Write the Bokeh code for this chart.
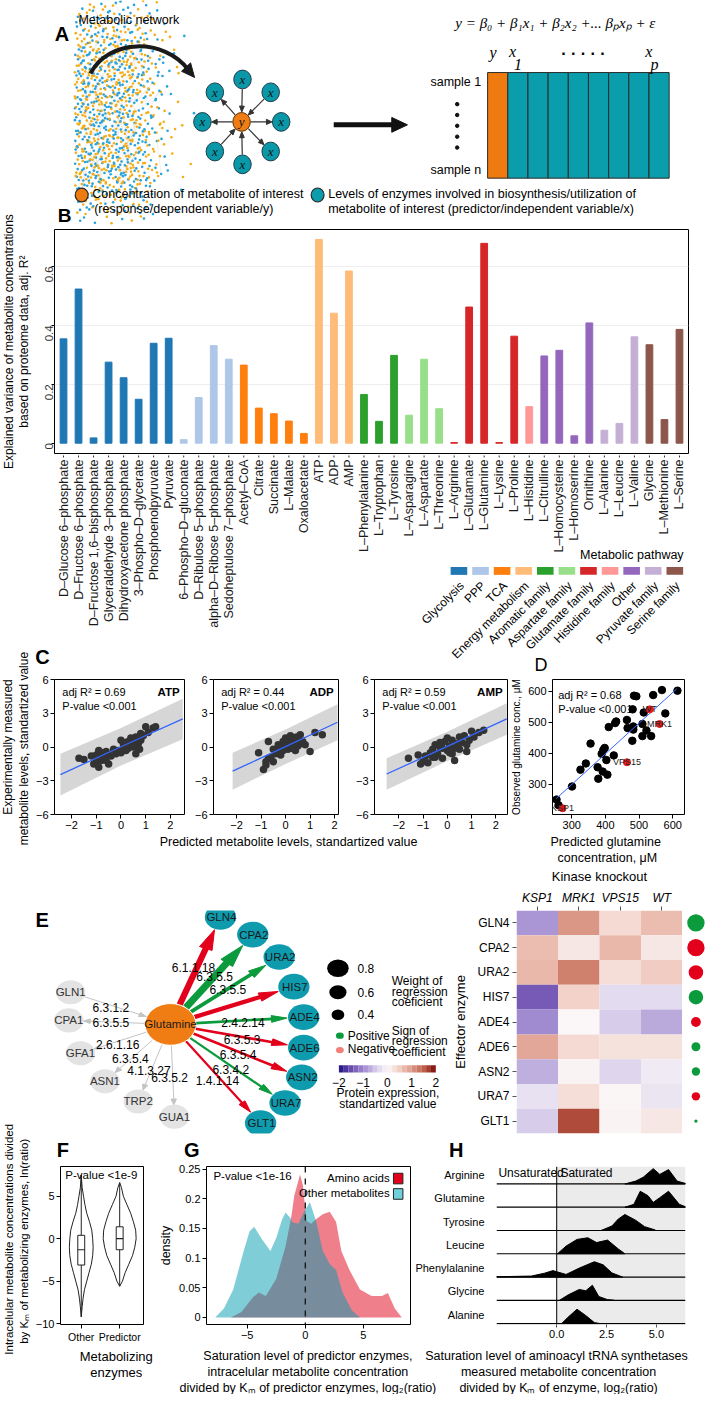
import numpy as np
from math import pi
from bokeh.plotting import figure
from bokeh.layouts import row, column
from bokeh.models import (Range1d, Label, FixedTicker, ColumnDataSource, Span, BoxAnnotation,
                          LinearColorMapper, BasicTickFormatter)
from bokeh.core.properties import value
from bokeh.embed import file_html
from bokeh.resources import INLINE

# ======================= DATA =======================
# Panel B
metabolites = ["D–Glucose 6–phosphate", "D–Fructose 6–phosphate", "D–Fructose 1,6–bisphosphate",
               "Glyceraldehyde 3–phosphate", "Dihydroxyacetone phosphate", "3–Phospho–D–glycerate",
               "Phosphoenolpyruvate", "Pyruvate", "6–Phospho–D–gluconate", "D–Ribulose 5–phosphate",
               "alpha–D–Ribose 5–phosphate", "Sedoheptulose 7–phosphate", "Acetyl–CoA", "Citrate",
               "Succinate", "L–Malate", "Oxaloacetate", "ATP", "ADP", "AMP", "L–Phenylalanine",
               "L–Tryptophan", "L–Tyrosine", "L–Asparagine", "L–Aspartate", "L–Threonine", "L–Arginine",
               "L–Glutamate", "L–Glutamine", "L–Lysine", "L–Proline", "L–Histidine", "L–Citrulline",
               "L–Homocysteine", "L–Homoserine", "Ornithine", "L–Alanine", "L–Leucine", "L–Valine",
               "Glycine", "L–Methionine", "L–Serine"]
adj_r2 = [0.354, 0.523, 0.018, 0.275, 0.222, 0.149, 0.339, 0.356, 0.012, 0.155, 0.331, 0.285,
          0.265, 0.119, 0.100, 0.075, 0.033, 0.691, 0.441, 0.584, 0.165, 0.074, 0.298, 0.095,
          0.285, 0.117, 0.002, 0.462, 0.678, 0.002, 0.363, 0.124, 0.296, 0.315, 0.025, 0.408,
          0.044, 0.067, 0.361, 0.334, 0.080, 0.386]
met_pathway = (["Glycolysis"] * 8 + ["PPP"] * 4 + ["TCA"] * 5 + ["Energy metabolism"] * 3 +
               ["Aromatic family"] * 3 + ["Aspartate family"] * 3 + ["Glutamate family"] * 5 +
               ["Histidine family"] + ["Other"] * 4 + ["Pyruvate family"] * 3 + ["Serine family"] * 3)
pathways = ["Glycolysis", "PPP", "TCA", "Energy metabolism", "Aromatic family", "Aspartate family",
            "Glutamate family", "Histidine family", "Other", "Pyruvate family", "Serine family"]
pathway_colors = ["#1f77b4", "#aec7e8", "#ff7f0e", "#ffbb78", "#2ca02c", "#98df8a", "#d62728",
                  "#ff9896", "#9467bd", "#c5b0d5", "#8c564b"]

# Panel C
atp_pred = [-1.7, -1.5, -1.2, -1.1, -1.0, -1.0, -0.9, -0.8, -0.8, -0.7, -0.6, -0.5, -0.5, -0.4, -0.3,
            -0.2, -0.1, 0.0, 0.0, 0.1, 0.2, 0.2, 0.3, 0.3, 0.4, 0.4, 0.5, 0.5, 0.6, 0.6, 0.7, 0.8,
            0.8, 0.9, 1.0, 1.1, 1.3, 1.4, -0.9, -0.6, 0.1, 0.35, 0.75]
atp_obs = [-1.0, -1.1, -0.8, -1.5, -1.3, -0.7, -1.8, -1.2, -0.5, -1.0, -0.4, -1.5, -0.7, -0.8, -0.2,
           -0.6, -0.3, 0.6, -0.5, 0.2, 0.4, -0.3, 0.5, -0.1, 0.8, 0.1, 0.5, 0.0, 0.9, -0.6, 0.3, 0.6,
           1.2, 1.0, 1.8, 1.3, 1.7, 1.8, -0.3, -1.2, -0.1, 0.2, -0.2]
adp_pred = [-1.1, -0.9, -0.8, -0.7, -0.7, -0.6, -0.5, -0.5, -0.4, -0.3, -0.3, -0.2, -0.1, -0.1, 0.0,
            0.0, 0.1, 0.1, 0.2, 0.2, 0.3, 0.3, 0.4, 0.4, 0.5, 0.5, 0.6, 0.7, 0.8, 1.0, 1.2, 1.5,
            -0.8, -0.2, 0.05, 0.25, 0.45, 0.6]
adp_obs = [-0.5, -2.0, -1.6, -1.0, 0.5, -0.9, -0.2, -1.3, -0.6, 0.2, -0.4, 0.0, -0.3, 0.5, 0.8, 0.1,
           0.2, -0.2, 1.0, 0.4, 0.6, 0.0, 0.3, -0.3, 0.7, 0.1, 1.1, 0.5, 0.2, -0.4, 1.3, 1.1, -1.3,
           -0.7, 0.4, -0.1, 0.9, 0.3]
amp_pred = [-1.6, -1.2, -1.1, -1.0, -0.9, -0.8, -0.7, -0.6, -0.5, -0.5, -0.4, -0.3, -0.2, -0.2, -0.1,
            0.0, 0.0, 0.1, 0.2, 0.2, 0.3, 0.4, 0.5, 0.5, 0.6, 0.7, 0.8, 0.8, 0.9, 1.0, 1.1, 1.3, 1.5,
            0.3, -0.6, -0.3, 0.1, 0.45]
amp_obs = [-1.0, -0.7, -1.5, -1.3, -0.8, -1.4, -0.5, -0.2, -0.9, 0.2, -0.6, 0.4, -0.1, -1.0, 0.5,
           -0.3, 0.8, 0.1, 0.6, -0.6, -1.2, 0.3, 0.9, -0.2, 0.4, 1.0, 0.2, -0.4, 0.6, 1.4, 0.9, 1.3,
           1.5, -0.1, -0.9, 0.0, -0.5, 0.2]
# regression line and prediction band (x, fit, lower, upper)
atp_band = dict(x=[-2.45, 0.0, 2.5], fit=[-2.45, 0.02, 2.5], lo=[-4.3, -1.65, 0.7], hi=[-0.6, 1.7, 4.3])
adp_band = dict(x=[-2.16, 0.0, 2.12], fit=[-2.15, 0.03, 2.2], lo=[-3.8, -1.5, 0.6], hi=[-0.5, 1.55, 3.8])
amp_band = dict(x=[-2.5, 0.0, 2.45], fit=[-2.4, 0.05, 2.5], lo=[-3.8, -1.25, 1.1], hi=[-1.0, 1.35, 3.9])
c_stats = [("ATP", "0.69"), ("ADP", "0.44"), ("AMP", "0.59")]

# Panel D
gln_pred = [255, 261, 301, 326, 342, 356, 377, 379, 392, 389, 394, 398, 403, 406, 425, 410, 429, 432,
            464, 466, 480, 483, 483, 481, 485, 492, 510, 510, 514, 522, 536, 542, 568, 578, 614]
gln_obs = [251, 233, 293, 347, 367, 431, 355, 318, 341, 398, 411, 417, 378, 331, 393, 484, 497, 502,
           507, 481, 440, 476, 486, 541, 585, 583, 494, 455, 531, 473, 455, 587, 603, 528, 601]
ko_names = ["KSP1", "VPS15", "WT", "MRK1"]
ko_pred = [273, 464, 532, 561]
ko_obs = [223, 371, 541, 494]
gln_fit_x = [254, 612]
gln_fit_y = [254, 607]

# Panel E
effectors = ["GLN4", "CPA2", "URA2", "HIS7", "ADE4", "ADE6", "ASN2", "URA7", "GLT1"]
effector_ec = ["6.1.1.18", "6.3.5.5", "6.3.5.5", "", "2.4.2.14", "6.3.5.3", "6.3.5.4", "6.3.4.2", "1.4.1.14"]
edge_sign = [-1, 1, 1, -1, 1, -1, -1, 1, -1]
edge_weight = [0.80, 0.88, 0.55, 0.60, 0.45, 0.45, 0.45, 0.40, 0.40]
other_enzymes = ["GLN1", "CPA1", "GFA1", "ASN1", "TRP2", "GUA1"]
other_ec = ["6.3.1.2", "6.3.5.5", "2.6.1.16", "6.3.5.4", "4.1.3.27", "6.3.5.2"]
other_into = [True, False, False, False, False, False]
knockouts = ["KSP1", "MRK1", "VPS15", "WT"]
expr_KSP1 = [-0.9, 0.65, 0.7, -1.4, -1.0, 0.85, -0.7, -0.25, -0.45]
expr_MRK1 = [1.0, 0.2, 1.2, 0.45, 0.0, 0.35, 0.05, 0.3, 1.6]
expr_VPS15 = [0.35, 0.7, 0.3, -0.3, -0.45, 0.25, -0.35, 0.02, 0.05]
expr_WT = [0.65, 0.2, 0.5, -0.3, -0.75, 0.25, -0.15, -0.2, 0.2]
dot_sign = [1, -1, -1, 1, -1, 1, 1, -1, 1]
dot_weight = [0.72, 0.72, 0.62, 0.62, 0.45, 0.42, 0.40, 0.40, 0.22]

# Panel F (violin profiles: value, density half-width)
other_v_val = [7.5, 6, 5, 4, 3, 2, 1, 0, -1, -2, -3, -4, -5, -6, -7, -8, -9.2]
other_v_den = [0, 1, 2.5, 4, 6, 9, 11.5, 12.5, 13, 12.5, 11, 8.5, 6, 3.5, 2, 1, 0]
pred_v_val = [6.6, 6, 5, 4, 3, 2, 1, 0, -1, -2, -3, -4, -5, -5.6]
pred_v_den = [0, 2, 4, 8, 12, 15, 17.5, 18, 16.5, 14, 10, 6, 3, 0]
box_other = dict(lo=-9.2, q1=-3.1, med=-1.3, q3=0.4, hi=7.5)
box_pred = dict(lo=-5.6, q1=-1.3, med=0.0, q3=1.4, hi=6.6)

# Panel G
aa_x = [-6.4, -5.5, -4.5, -4.0, -3.4, -2.5, -1.7, -1.2, -0.95, -0.45, -0.2, 0.1, 0.5, 0.95, 1.5,
        2.1, 2.65, 3.1, 3.8, 4.7, 5.7, 6.6, 7.1, 7.7, 8.3]
aa_d = [0.0, 0.009, 0.034, 0.042, 0.036, 0.065, 0.12, 0.17, 0.205, 0.241, 0.222, 0.163, 0.158, 0.166,
        0.174, 0.178, 0.161, 0.112, 0.080, 0.047, 0.036, 0.036, 0.041, 0.015, 0.0]
om_x = [-7.75, -7.0, -6.2, -5.3, -4.8, -4.4, -3.8, -3.0, -2.5, -2.0, -1.7, -1.3, -1.1, -0.6, 0.0,
        0.4, 0.95, 1.5, 2.1, 2.65, 3.2, 4.0, 4.7]
om_d = [0.0, 0.015, 0.047, 0.112, 0.145, 0.153, 0.134, 0.112, 0.134, 0.165, 0.177, 0.168, 0.160,
        0.158, 0.182, 0.194, 0.161, 0.112, 0.090, 0.080, 0.042, 0.012, 0.0]

# Panel H (ridgelines)
ridge_names = ["Alanine", "Glycine", "Phenylalanine", "Leucine", "Tyrosine", "Glutamine", "Arginine"]
ridge_x = [
    [0.25, 0.57, 1.02, 1.46, 1.89, 2.17],
    [0.14, 0.58, 1.13, 1.46, 1.79, 2.11, 2.55, 2.88],
    [-3.02, -1.27, -0.61, -0.19, 0.47, 1.13, 1.89, 2.33, 2.77, 3.3],
    [0.04, 0.47, 1.02, 1.56, 2.0, 2.55, 3.09, 3.42],
    [2.22, 2.77, 3.09, 3.42, 3.96, 4.41, 4.95],
    [3.42, 3.87, 4.19, 4.58, 4.84, 5.17, 5.61, 6.15, 6.46],
    [3.42, 3.96, 4.34, 4.84, 5.17, 5.61, 6.04, 6.46],
]
ridge_d = [
    [0, 6.7, 15, 8.3, 1, 0],
    [0, 5.7, 11.3, 10, 15.7, 4, 0.7, 0],
    [0.3, 1, 4, 6.7, 2.7, 9.3, 16, 12.7, 4.3, 0],
    [0, 8, 15, 16.7, 11.7, 14.3, 5, 0],
    [0, 4.7, 12, 16.7, 10.7, 4, 0.5],
    [0, 3, 16.7, 12, 5, 10, 16.7, 3, 0.5],
    [0, 3, 7, 16, 10, 15, 3, 0.5],
]

# ======================= LAYOUT HELPERS =======================
SANS = "Liberation Sans"
SERIF = "Liberation Serif"
SX = 705.0 / 721.0
SY = 1394.0 / 1410.0


def X(v):
    return int(round(v * SX))


def Y(v):
    return int(round(v * SY))


class Panel:
    """A figure whose canvas / frame are given in reference-pixel units."""

    def __init__(self, canvas, frame=None, xr=None, yr=None, **kw):
        cx0, cx1, cy0, cy1 = canvas
        if frame is None:
            frame = canvas
        fx0, fx1, fy0, fy1 = frame
        if xr is None:
            xr = (fx0, fx1)
        if yr is None:
            yr = (fy1, fy0)
        self.frame, self.xr, self.yr = frame, xr, yr
        p = figure(width=X(cx1) - X(cx0), height=Y(cy1) - Y(cy0),
                   x_range=Range1d(*xr), y_range=Range1d(*yr),
                   output_backend="svg", toolbar_location=None, **kw)
        p.min_border_left = X(fx0) - X(cx0)
        p.min_border_right = X(cx1) - X(fx1)
        p.min_border_top = Y(fy0) - Y(cy0)
        p.min_border_bottom = Y(cy1) - Y(fy1)
        p.border_fill_color = "white"
        p.background_fill_color = "white"
        p.outline_line_color = None
        self.p = p

    def dx(self, rx):
        fx0, fx1, _, _ = self.frame
        return self.xr[0] + (rx - fx0) / (fx1 - fx0) * (self.xr[1] - self.xr[0])

    def dy(self, ry):
        _, _, fy0, fy1 = self.frame
        return self.yr[0] + (fy1 - ry) / (fy1 - fy0) * (self.yr[1] - self.yr[0])

    def label(self, rx, ry, text, size=12, align="left", base="middle", angle=0.0, font=SANS,
              style="normal", color="#000000", **kw):
        self.p.add_layout(Label(x=self.dx(rx), y=self.dy(ry), text=text, text_font_size=f"{size}px",
                                text_align=align, text_baseline=base, angle=angle, text_font=font,
                                text_font_style=style, text_color=color, **kw))


def blank(canvas, **kw):
    return Panel(canvas, x_axis_type=None, y_axis_type=None, **kw)


def style_axes(p, size=11, color="#000000"):
    for ax in p.axis:
        ax.axis_line_color = None
        ax.major_tick_line_color = "#000000"
        ax.major_tick_out = 4
        ax.major_tick_in = 0
        ax.minor_tick_line_color = None
        ax.major_label_text_font_size = f"{size}px"
        ax.major_label_text_font = SANS
        ax.major_label_text_color = color
        ax.major_label_standoff = 2
        ax.axis_label_text_font = SANS
        ax.axis_label_text_font_style = "normal"
        ax.axis_label_text_color = "#000000"
    p.grid.visible = False


def head(tx, ty, ux, uy, L, hw):
    n = np.hypot(ux, uy)
    ux, uy = ux / n, uy / n
    bx, by = tx - ux * L, ty - uy * L
    px, py = -uy, ux
    return [tx, bx + px * hw, bx - px * hw], [ty, by + py * hw, by - py * hw]


def halton(i, b):
    f, r = 1.0, 0.0
    while i > 0:
        f /= b
        r += f * (i % b)
        i //= b
    return r


# ======================= LEFT STRIP (rotated y titles) =======================
LS = blank((0, 33, 0, 1410))
LS.label(9, 345, "Explained variance of metabolite concentrations", size=12, align="center", angle=pi / 2)
LS.label(24, 345, "based on proteome data, adj. R²", size=12, align="center", angle=pi / 2)
LS.label(8, 755, "Experimentally measured", size=12, align="center", angle=pi / 2)
LS.label(24, 755, "metabolite levels,  standartized value", size=12, align="center", angle=pi / 2)
LS.label(9, 1253, "Intracelular metabolite concentrations divided", size=11.5, align="center", angle=pi / 2)
LS.label(24, 1255, "by Kₘ of metabolizing enzymes, ln(ratio)", size=11.5, align="center", angle=pi / 2)

# ======================= PANEL A =======================
PA = blank((33, 721, 0, 230))
pa = PA.p
hx, hy, hc = [], [], []
for i in range(1, 4200):
    u, v, w, c = halton(i, 2), halton(i, 3), halton(i, 5), halton(i, 7)
    x = 55 + 150 * u
    y = 226 * v
    d = 1.0 if x < 105 else np.exp(-((x - 105) / 38.0) ** 2)
    if y < 60:
        d *= 0.2 + 0.8 * y / 60.0
    if y > 185:
        d *= max(0.0, 1 - (y - 185) / 45.0) * (1.0 if x < 140 else 0.2)
    if w < 0.55 * d:
        hx.append(x)
        hy.append(y)
        hc.append("#f4ad17" if c < 0.5 else "#28a3dc")
exs, eys = [], []
for k in range(0, len(hx) - 5, 2):
    if abs(hx[k] - hx[k + 5]) < 35 and abs(hy[k] - hy[k + 5]) < 35:
        exs.append([hx[k], hx[k + 5]])
        eys.append([hy[k], hy[k + 5]])
pa.multi_line(exs, eys, line_color="#9a9a9a", line_alpha=0.3, line_width=0.5)
pa.scatter(hx, hy, marker="circle", size=2.6, color=hc, line_color=None)

pa.bezier(x0=[72], y0=[74], x1=[178], y1=[70], cx0=[92], cy0=[38], cx1=[152], cy1=[38],
          line_width=4, line_color="#1a1a1a")
hxs, hys = head(185, 78, 14, 16, 14, 6.5)
pa.patch(hxs, hys, color="#1a1a1a")

cx_, cy_ = 236, 123
star_nodes = [(237, 80, True), (267.6, 93, True), (279, 123, False), (267.6, 153, False),
              (237, 166, True), (207, 153, True), (193.5, 123, False), (207, 93, False)]
for nx, ny, inward in star_nodes:
    ux, uy = nx - cx_, ny - cy_
    n = np.hypot(ux, uy)
    ux, uy = ux / n, uy / n
    sx0, sy0 = cx_ + ux * 10, cy_ + uy * 10
    ex0, ey0 = nx - ux * 10, ny - uy * 10
    if inward:
        pa.segment(ex0, ey0, sx0 + ux * 5, sy0 + uy * 5, line_color="#333333", line_width=1.2)
        a, b = head(sx0, sy0, -ux, -uy, 6, 2.6)
    else:
        pa.segment(sx0, sy0, ex0 - ux * 5, ey0 - uy * 5, line_color="#333333", line_width=1.2)
        a, b = head(ex0, ey0, ux, uy, 6, 2.6)
    pa.patch(a, b, color="#333333")
pa.ellipse([n_[0] for n_ in star_nodes], [n_[1] for n_ in star_nodes], width=19, height=19,
           fill_color="#0a98a8", line_color="#1d3f4a", line_width=1)
pa.ellipse([cx_], [cy_], width=19, height=19, fill_color="#ef7d13", line_color="#5a3000", line_width=1)
pa.text([n_[0] for n_ in star_nodes], [n_[1] for n_ in star_nodes], text=["x"] * 8,
        text_font=value(SERIF), text_font_style="italic", text_font_size="13px",
        text_align="center", text_baseline="middle", text_color="#111111")
pa.text([cx_], [cy_], text=["y"], text_font=value(SERIF), text_font_style="italic",
        text_font_size="13px", text_align="center", text_baseline="middle", text_color="#111111")

pa.segment(336, 126, 402, 126, line_width=5, line_color="#111111")
a, b = head(416, 126, 1, 0, 17, 7.5)
pa.patch(a, b, color="#111111")

mat_cols = ["y"] + ["x%d" % k for k in range(1, 9)]
mcw = (700 - 503) / len(mat_cols)
pa.quad(left=[503 + k * mcw for k in range(len(mat_cols))],
        right=[503 + (k + 1) * mcw for k in range(len(mat_cols))],
        top=[73] * len(mat_cols), bottom=[180] * len(mat_cols),
        fill_color=["#ef7b10"] + ["#0a9dab"] * (len(mat_cols) - 1), line_color="#2a2a2a", line_width=1)
PA.label(496, 83, "sample 1", size=12.5, align="right")
PA.label(496, 172, "sample n", size=12.5, align="right")
pa.scatter([470] * 5, [105, 116, 127, 138, 149], size=3.5, color="#111111")
PA.label(509, 53, "y", size=16, align="center", font=SERIF, style="italic")
PA.label(530, 52, "x", size=16, align="center", font=SERIF, style="italic")
PA.label(536, 65, "1", size=16, align="center", font=SERIF, style="italic")
PA.label(607, 54, "· · · · ·", size=16, align="center", font=SANS, style="bold")
PA.label(678, 52, "x", size=16, align="center", font=SERIF, style="italic")
PA.label(684, 65, "p", size=16, align="center", font=SERIF, style="italic")
PA.label(468, 23, "y = β₀ + β₁x₁ + β₂x₂ +... βₚxₚ + ε", size=15, align="left", font=SERIF,
         style="italic")
PA.label(59, 20, "Metabolic network", size=12.5)
PA.label(41, 34, "A", size=20, align="center", style="bold")
pa.ellipse([62.5, 318.5], [197, 197], width=14, height=14, fill_color=["#ef7b10", "#0a9dab"],
           line_color="#2b2b2b", line_width=1.2)
PA.label(74, 196, "Concentration of metabolite of interest", size=12.5)
PA.label(76, 211, "(response/dependent variable/y)", size=12.5)
PA.label(330, 196, "Levels of enzymes involved in biosynthesis/utilization of", size=12.5)
PA.label(330, 211, "metabolite of interest (predictor/independent variable/x)", size=12.5)
PA.label(44, 218, "B", size=19, align="center", style="bold")

# ======================= PANEL B =======================
B_XR = (-0.6, 41.6)
PB = Panel((33, 721, 230, 460), (55, 704, 232, 458), xr=B_XR, yr=(-0.035, 0.725), x_axis_location=None)
pb = PB.p
bar_colors = [pathway_colors[pathways.index(pw)] for pw in met_pathway]
idx = list(range(len(metabolites)))
pb.vbar(x=idx, top=adj_r2, width=0.45, color=bar_colors)
style_axes(pb, 11.5)
pb.outline_line_color = "#000000"
pb.yaxis.ticker = FixedTicker(ticks=[0, 0.2, 0.4, 0.6])
pb.yaxis.formatter = BasicTickFormatter(precision=1)
pb.yaxis.major_label_orientation = pi / 2
pb.yaxis.major_label_text_color = "#333333"
pb.yaxis.major_tick_out = 3
pb.yaxis.major_label_standoff = 2
pb.ygrid.visible = True
pb.ygrid.ticker = FixedTicker(ticks=[0.2, 0.4, 0.6])
pb.ygrid.grid_line_color = "#eeeeee"
pb.xgrid.visible = False

# category axis strip of B (identical frame/x scale as B) + pathway legend + letters
BLc = blank((33, 55, 460, 683))
BLc.label(43, 664, "C", size=20, align="center", style="bold")
BL = Panel((55, 721, 460, 683), (55, 704, 460, 683), xr=B_XR, yr=(683, 460),
           x_axis_type=None, y_axis_type=None)
bl = BL.p
bl.segment(x0=idx, y0=[459] * len(idx), x1=idx, y1=[462] * len(idx), line_color="#333333", line_width=1)
bl.text(x=idx, y=[464] * len(idx), text=metabolites, angle=pi / 2, text_align="right",
        text_baseline="middle", text_font=value(SANS), text_font_size="12.5px", text_color="#1a1a1a")
BL.label(699, 561, "Metabolic pathway", size=12.5, align="right")
sw_c = [469 + 22.1 * k for k in range(len(pathways))]
bl.quad(left=[BL.dx(c_ - 8.5) for c_ in sw_c], right=[BL.dx(c_ + 8.5) for c_ in sw_c],
        top=[573] * len(sw_c), bottom=[581] * len(sw_c), fill_color=pathway_colors, line_color=None)
for c_, pw in zip(sw_c, pathways):
    BL.label(c_ + 3, 590, pw, size=12, align="right", angle=pi / 4)
BL.label(553, 672, "D", size=18, align="center")

# ======================= PANEL C / D =======================
def scatter_panel(P, pred, obs, band, name, r2):
    p = P.p
    p.varea(x=band["x"], y1=band["lo"], y2=band["hi"], fill_color="#c8c8c8", fill_alpha=0.75)
    p.scatter(pred, obs, size=7.5, color="#333333", line_color=None)
    p.line(band["x"], band["fit"], line_color="#3366ff", line_width=1.3)
    style_axes(p, 11)
    p.outline_line_color = "#000000"
    p.xaxis.ticker = FixedTicker(ticks=[-2, -1, 0, 1, 2])
    p.yaxis.ticker = FixedTicker(ticks=[-6, -3, 0, 3, 6])
    fx0, fx1 = P.frame[0], P.frame[1]
    P.label(fx0 + 8, 700, "adj R² = " + r2, size=11)
    P.label(fx0 + 8, 714, "P-value <0.001", size=11)
    P.label(fx1 - 5, 700, name, size=11.5, align="right", style="bold")


C1 = Panel((33, 195, 683, 843), (55, 188, 687, 823), xr=(-2.69, 2.57), yr=(-6, 6))
C2 = Panel((195, 355, 683, 843), (216, 346, 687, 823), xr=(-2.94, 2.16), yr=(-6, 6))
C3 = Panel((355, 520, 683, 843), (382, 519, 687, 823), xr=(-3.0, 2.48), yr=(-6, 6))
scatter_panel(C1, atp_pred, atp_obs, atp_band, c_stats[0][0], c_stats[0][1])
scatter_panel(C2, adp_pred, adp_obs, adp_band, c_stats[1][0], c_stats[1][1])
scatter_panel(C3, amp_pred, amp_obs, amp_band, c_stats[2][0], c_stats[2][1])

PD = Panel((520, 721, 683, 843), (562, 700, 685, 823), xr=(243, 635), yr=(203, 637))
pd_ = PD.p
pd_.scatter(gln_pred, gln_obs, size=7.5, color="#000000")
pd_.line(gln_fit_x, gln_fit_y, line_color="#3366ff", line_width=1)
pd_.scatter(ko_pred, ko_obs, size=7, color="#e41a1c")
pd_.text(ko_pred, ko_obs, text=ko_names, text_font=value(SANS), text_font_size="9px",
         text_align="center", text_baseline="middle", text_color="#222222")
style_axes(pd_, 11)
pd_.outline_line_color = "#000000"
pd_.xaxis.ticker = FixedTicker(ticks=[300, 400, 500, 600])
pd_.yaxis.ticker = FixedTicker(ticks=[300, 400, 500, 600])
pd_.yaxis.axis_label = "Observed glutamine conc., μM"
pd_.yaxis.axis_label_text_font_size = "10px"
pd_.yaxis.axis_label_standoff = 3
PD.label(568, 701, "adj R² = 0.68", size=11)
PD.label(568, 715, "P-value <0.001", size=11)

SCD = blank((33, 721, 843, 875))
SCD.label(287, 851, "Predicted metabolite levels, standartized value", size=12.5, align="center")
SCD.label(633, 851, "Predicted  glutamine", size=12.5, align="center")
SCD.label(633, 867, "concentration, μM", size=12.5, align="center")

# ======================= PANEL E =======================
PE = blank((33, 460, 875, 1153))
pe = PE.p
GREEN, RED = "#0b9a3c", "#e2001a"
gx, gy = 174, 1017
eff_pos = [(225, 883), (258, 905), (285, 933), (300, 970), (310, 1008), (310, 1046), (308, 1083),
           (291, 1115), (266, 1140)]
oth_pos = [(72, 977), (70, 1012), (82, 1053), (107, 1088), (141, 1113), (178, 1132)]
oth_lab = [(113, 996), (113, 1014), (120, 1042), (133, 1060), (152, 1075), (173, 1083)]
eff_lab_off = [(-2, -4), (3, -4), (3, -2), (0, 0), (6, 2), (5, 4), (2, 5), (3, 7), (2, 8)]
R_G, R_N = 26, 16
for (nx, ny), into in zip(oth_pos, other_into):
    ux, uy = nx - gx, ny - gy
    n = np.hypot(ux, uy)
    ux, uy = ux / n, uy / n
    s = (gx + ux * (R_G + 1), gy + uy * (R_G + 1))
    e = (nx - ux * 15, ny - uy * 15)
    if into:
        pe.segment(e[0], e[1], s[0] - ux * 6, s[1] - uy * 6, line_color="#c4c4c4", line_width=1)
        a, b = head(s[0], s[1], -ux, -uy, 7, 2.8)
    else:
        pe.segment(s[0], s[1], e[0] - ux * 6, e[1] - uy * 6, line_color="#c4c4c4", line_width=1)
        a, b = head(e[0], e[1], ux, uy, 7, 2.8)
    pe.patch(a, b, color="#c4c4c4")
for (nx, ny), sg, wgt in zip(eff_pos, edge_sign, edge_weight):
    col = GREEN if sg > 0 else RED
    lw = 10 * wgt - 1.8
    ux, uy = nx - gx, ny - gy
    n = np.hypot(ux, uy)
    ux, uy = ux / n, uy / n
    s = (gx + ux * R_G, gy + uy * R_G)
    e = (nx - ux * (R_N + 1), ny - uy * (R_N + 1))
    L = 9 + 2.6 * lw
    pe.segment(s[0], s[1], e[0] - ux * (L - 2), e[1] - uy * (L - 2), line_color=col, line_width=lw)
    a, b = head(e[0], e[1], ux, uy, L, 2.2 + 0.75 * lw)
    pe.patch(a, b, color=col)
pe.ellipse([p_[0] for p_ in oth_pos], [p_[1] for p_ in oth_pos], width=30, height=30,
           fill_color="#e3e3e3", line_color=None)
pe.ellipse([p_[0] for p_ in eff_pos], [p_[1] for p_ in eff_pos], width=32, height=32,
           fill_color="#0e9bae", line_color=None)
pe.ellipse([gx], [gy], width=2 * R_G, height=2 * R_G, fill_color="#ef7d14", line_color="white")
pe.text([p_[0] for p_ in oth_pos], [p_[1] for p_ in oth_pos], text=other_enzymes,
        text_font=value(SANS), text_font_size="11.5px", text_align="center", text_baseline="middle",
        text_color="#333333")
pe.text([p_[0] + 1 for p_ in eff_pos], [p_[1] for p_ in eff_pos], text=effectors,
        text_font=value(SANS), text_font_size="11.5px", text_align="center", text_baseline="middle",
        text_color="#1a1a1a")
pe.text([gx], [gy], text=["Glutamine"], text_font=value(SANS), text_font_size="11.5px",
        text_align="center", text_baseline="middle", text_color="#1a1a1a")
for (lx, ly), t in zip(oth_lab, other_ec):
    PE.label(lx, ly, t, size=12, align="center")
for (nx, ny), (ox, oy), t in zip(eff_pos, eff_lab_off, effector_ec):
    if t:
        PE.label((gx + nx) / 2 + ox, (gy + ny) / 2 + oy, t, size=12, align="center")
PE.label(43, 887, "E", size=20, align="center", style="bold")
for wv, yy in zip([0.8, 0.6, 0.4], [947, 977, 1005]):
    d = 22.5 * wv + 4
    pe.ellipse([345], [yy], width=d, height=d, fill_color="#000000", line_color=None)
    PE.label(365, yy, "%.1f" % wv, size=12)
for t, yy in zip(["Weight of", "regression", "coeficient"], [963, 976, 989]):
    PE.label(400, yy, t, size=12)
pe.ellipse([347, 347], [1031, 1049], width=8, height=8, fill_color=[GREEN, "#f28079"], line_color=None)
PE.label(355, 1031, "Positive", size=12)
PE.label(355, 1048, "Negative", size=12)
for t, yy in zip(["Sign of", "regression", "coefficient"], [1025, 1038, 1051]):
    PE.label(400, yy, t, size=12)

anchors = [(-2.0, "#1c0f82"), (-1.5, "#6c4eb0"), (-1.0, "#a08ad0"), (-0.5, "#d3c8e8"), (0.0, "#fbf8f9"),
           (0.5, "#f1cdc3"), (1.0, "#dc9887"), (1.5, "#bd5e48"), (2.0, "#7a0808")]


def interp_palette(anch, n=256):
    xs = [a_[0] for a_ in anch]
    rgb = np.array([[int(a_[1][j:j + 2], 16) for j in (1, 3, 5)] for a_ in anch], float)
    out = []
    for vv in np.linspace(-2, 2, n):
        cc = [int(round(np.interp(vv, xs, rgb[:, k]))) for k in range(3)]
        out.append("#%02x%02x%02x" % tuple(cc))
    return out


palette = interp_palette(anchors)
mapper = LinearColorMapper(palette=palette, low=-2, high=2)
nseg = 20
seg_edges = np.linspace(346, 445, nseg + 1)
seg_vals = np.linspace(-2, 2, nseg + 1)
seg_cols = [palette[int((0.5 * (seg_vals[k] + seg_vals[k + 1]) + 2) / 4 * 255)] for k in range(nseg)]
pe.quad(left=seg_edges[:-1], right=seg_edges[1:], top=[1068] * nseg, bottom=[1077] * nseg,
        fill_color=seg_cols, line_color=None)
for vv in [-2, -1, 0, 1, 2]:
    PE.label(346 + (vv + 2) / 4 * 99, 1090, ("−%d" % abs(vv)) if vv < 0 else str(vv), size=12,
             align="center")
PE.label(396, 1103, "Protein expression,", size=12, align="center")
PE.label(396, 1116, "standartized value", size=12, align="center")

PHm = Panel((460, 697, 875, 1153), (521, 697, 917, 1146), xr=(0, 4), yr=(0, 9), x_axis_location="above")
ph = PHm.p
cols_expr = [expr_KSP1, expr_MRK1, expr_VPS15, expr_WT]
hm = dict(x=[], y=[], v=[])
for ci, colv in enumerate(cols_expr):
    for ri, vv in enumerate(colv):
        hm["x"].append(ci + 0.5)
        hm["y"].append(8.5 - ri)
        hm["v"].append(vv)
ph.rect(x="x", y="y", width=1, height=1, source=ColumnDataSource(hm),
        fill_color={"field": "v", "transform": mapper}, line_color=None)
style_axes(ph, 12)
ph.xaxis.ticker = FixedTicker(ticks=[0.5, 1.5, 2.5, 3.5])
ph.xaxis.major_label_overrides = {k + 0.5: n_ for k, n_ in enumerate(knockouts)}
ph.xaxis.major_label_text_font_style = "italic"
ph.xaxis.major_tick_line_color = "#555555"
ph.xaxis.axis_label = "Kinase knockout"
ph.xaxis.axis_label_text_font_size = "13px"
ph.xaxis.axis_label_standoff = 4
ph.yaxis.ticker = FixedTicker(ticks=[r + 0.5 for r in range(9)])
ph.yaxis.major_label_overrides = {8 - r + 0.5: n_ for r, n_ in enumerate(effectors)}
ph.yaxis.major_tick_line_color = "#555555"
ph.yaxis.major_label_standoff = 3
ph.yaxis.axis_label = "Effector enzyme"
ph.yaxis.axis_label_text_font_size = "13px"
ph.yaxis.axis_label_standoff = 6

PDots = Panel((697, 721, 875, 1153), (697, 721, 917, 1146), xr=(0, 24), yr=(0, 9),
              x_axis_type=None, y_axis_type=None)
PDots.p.scatter([14] * 9, [8.5 - r for r in range(9)], size=[28 * (w_ - 0.1) for w_ in dot_weight],
                color=[GREEN if s_ > 0 else RED for s_ in dot_sign], line_color=None)

# ======================= PANEL F / G / H =======================
SFt = blank((33, 721, 1153, 1172))
SFt.label(42, 1162, "F", size=20, align="center", style="bold")
SFt.label(182, 1162, "G", size=20, align="center", style="bold")
SFt.label(469, 1162, "H", size=20, align="center", style="bold")

PF = Panel((33, 160, 1172, 1362), (55.5, 146, 1179, 1343), xr=(0.46, 2.62), yr=(-10.1, 8.5))
pf = PF.p
for cpos, vals, dens, bx in [(1, other_v_val, other_v_den, box_other), (2, pred_v_val, pred_v_den, box_pred)]:
    hw = [d_ / 42.0 for d_ in dens]
    xs = [cpos + h_ for h_ in hw] + [cpos - h_ for h_ in hw[::-1]]
    ys = list(vals) + list(vals[::-1])
    pf.patch(xs, ys, fill_color="white", line_color="#222222", line_width=1)
    pf.segment(cpos, bx["lo"], cpos, bx["hi"], line_color="#222222", line_width=1)
    pf.quad(left=cpos - 0.09, right=cpos + 0.09, bottom=bx["q1"], top=bx["q3"], fill_color="white",
            line_color="#222222", line_width=1)
    pf.segment(cpos - 0.09, bx["med"], cpos + 0.09, bx["med"], line_color="#222222", line_width=1.2)
style_axes(pf, 11)
pf.outline_line_color = "#000000"
pf.xaxis.ticker = FixedTicker(ticks=[1, 2])
pf.xaxis.major_label_overrides = {1: "Other", 2: "Predictor"}
pf.xaxis.major_label_text_font_size = "10.5px"
pf.yaxis.ticker = FixedTicker(ticks=[-10, -5, 0, 5])
PF.label(100, 1188, "P-value <1e-9", size=11.5, align="center")

PG = Panel((160, 421, 1172, 1362), (203.7, 419, 1179, 1343), xr=(-8.5, 9.05), yr=(-0.0119, 0.2544))
pg = PG.p
pg.varea(x=aa_x, y1=[0] * len(aa_x), y2=aa_d, fill_color="#df0015", fill_alpha=0.5)
pg.varea(x=om_x, y1=[0] * len(om_x), y2=om_d, fill_color="#009baf", fill_alpha=0.5)
pg.add_layout(Span(location=0, dimension="height", line_dash="dashed", line_color="#111111", line_width=1.3))
style_axes(pg, 11)
pg.outline_line_color = "#000000"
pg.xaxis.ticker = FixedTicker(ticks=[-5, 0, 5])
pg.yaxis.ticker = FixedTicker(ticks=[0, 0.05, 0.10, 0.15, 0.20, 0.25])
pg.yaxis.formatter = BasicTickFormatter(precision=2)
pg.yaxis.axis_label = "density"
pg.yaxis.axis_label_text_font_size = "12.5px"
pg.yaxis.axis_label_standoff = 3
pg.quad(left=[PG.dx(401), PG.dx(401)], right=[PG.dx(411), PG.dx(411)],
        top=[PG.dy(1186), PG.dy(1202)], bottom=[PG.dy(1197), PG.dy(1213)],
        fill_color=["#e3001b", "#6fcfdb"], line_color="#222222", line_width=1)
PG.label(397, 1191, "Amino acids", size=11.5, align="right")
PG.label(397, 1207, "Other metabolites", size=11.5, align="right")
PG.label(211, 1189, "P-value <1e-16", size=11.5)

PH = Panel((421, 721, 1172, 1362), (500, 701, 1174, 1339), xr=(-3.02, 6.46), yr=(-0.04, 6.75))
pH = PH.p
pH.add_layout(BoxAnnotation(left=0, fill_color="#ebebeb", fill_alpha=1, line_color=None, level="underlay"))
for k, (xs_, ds_) in enumerate(zip(ridge_x, ridge_d)):
    hh = [k + d_ / 24.3 for d_ in ds_]
    pH.patch(list(xs_) + list(xs_[::-1]), hh + [k] * len(xs_), fill_color="#000000", line_color="#000000")
    pH.add_layout(Span(location=k, dimension="width", line_color="#000000", line_width=1.2))
pH.add_layout(Span(location=0, dimension="height", line_color="#000000", line_width=1))
style_axes(pH, 11)
pH.xaxis.ticker = FixedTicker(ticks=[0, 2.5, 5])
pH.xaxis.major_label_overrides = {0: "0.0", 2.5: "2.5", 5: "5.0"}
pH.xaxis.major_tick_out = 3
pH.xaxis.major_tick_line_color = "#555555"
pH.yaxis.ticker = FixedTicker(ticks=[k + 0.38 for k in range(len(ridge_names))])
pH.yaxis.major_label_overrides = {k + 0.38: n_ for k, n_ in enumerate(ridge_names)}
pH.yaxis.major_tick_line_color = None
pH.yaxis.major_label_standoff = 8
PH.label(502, 1181, "Unsaturated", size=12)
PH.label(568, 1181, "Saturated", size=12)

SF = blank((33, 721, 1362, 1410))
SF.label(100, 1371, "Metabolizing", size=13, align="center")
SF.label(100, 1388, "enzymes", size=13, align="center")
for t, yy in zip(["Saturation level of predictor enzymes,", "intracelular metabolite concentration",
                  "divided by Kₘ of predictor enzymes, log₂(ratio)"], [1371, 1387, 1403]):
    SF.label(308, yy, t, size=12.5, align="center")
for t, yy in zip(["Saturation level of aminoacyl tRNA synthetases,", "measured metabolite concentration",
                  "divided by Kₘ of enzyme, log₂(ratio)"], [1371, 1387, 1403]):
    SF.label(580, yy, t, size=12.5, align="center")

# ======================= ASSEMBLE =======================
right = column(PA.p, PB.p, row(BLc.p, BL.p), row(C1.p, C2.p, C3.p, PD.p), SCD.p,
               row(PE.p, PHm.p, PDots.p), SFt.p, row(PF.p, PG.p, PH.p), SF.p)
layout = row(LS.p, right)
open("out.html", "w").write(file_html(layout, INLINE))
